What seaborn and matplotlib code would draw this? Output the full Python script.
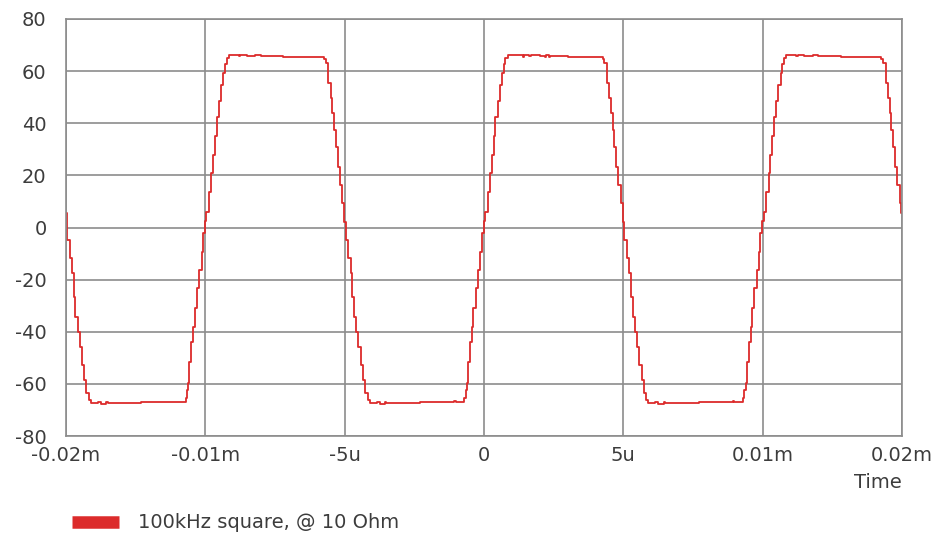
import numpy as np
import pandas as pd
import matplotlib
matplotlib.use("Agg")
import matplotlib.pyplot as plt
from matplotlib.lines import Line2D
import seaborn as sns

sns.set_style("white")
plt.rcParams['font.family'] = ['DejaVu Sans']
plt.rcParams['axes.unicode_minus'] = False

# time in microseconds (one row per edge / plateau)
t_us = [
    # falling edge at -15u (tail only)
    -15.00, -14.98, -14.96, -14.87, -14.78, -14.72, -14.66, -14.58, -14.51, -14.42, -14.34, -14.27, -14.18, -14.10,
    -13.85, -13.75, -13.55, -13.50, -13.20, -12.30,
    # rising edge at -10u
    -10.70, -10.66, -10.61, -10.58, -10.50, -10.43, -10.38, -10.30, -10.22, -10.13, -10.08, -10.01,
    -9.97, -9.87, -9.79, -9.72, -9.65, -9.59, -9.51, -9.44, -9.36, -9.29, -9.23, -9.15,
    -8.80, -8.75, -8.50, -8.20, -8.00, -7.20,
    # falling edge at -5u
    -5.74, -5.68, -5.59, -5.50, -5.44, -5.38, -5.32, -5.25, -5.18, -5.08, -5.02,
    -4.96, -4.87, -4.78, -4.72, -4.66, -4.58, -4.51, -4.42, -4.34, -4.27, -4.18, -4.10,
    -3.85, -3.75, -3.55, -3.50, -3.20, -2.30, -1.06, -1.02,
    # rising edge at 0
    -0.70, -0.66, -0.61, -0.58, -0.50, -0.43, -0.38, -0.30, -0.22, -0.13, -0.08, -0.01,
    0.03, 0.13, 0.21, 0.28, 0.35, 0.41, 0.49, 0.56, 0.64, 0.71, 0.77, 0.85,
    1.40, 1.45, 1.60, 1.70, 2.00, 2.20, 2.23, 2.33, 2.36, 3.00,
    # falling edge at 5u
    4.26, 4.32, 4.41, 4.50, 4.56, 4.62, 4.68, 4.75, 4.82, 4.92, 4.98,
    5.04, 5.13, 5.22, 5.28, 5.34, 5.42, 5.49, 5.58, 5.66, 5.73, 5.82, 5.90,
    6.15, 6.25, 6.45, 6.50, 6.80, 7.70, 8.94, 8.98,
    # rising edge at 10u
    9.30, 9.34, 9.39, 9.42, 9.50, 9.57, 9.62, 9.70, 9.78, 9.87, 9.92, 9.99,
    10.03, 10.13, 10.21, 10.28, 10.35, 10.41, 10.49, 10.56, 10.64, 10.71, 10.77, 10.85,
    11.20, 11.25, 11.50, 11.80, 12.00, 12.80,
    # falling edge at 15u (head only)
    14.26, 14.32, 14.41, 14.50, 14.56, 14.62, 14.68, 14.75, 14.82, 14.92, 14.98, 15.00,
]

volts = [
    5.5, 2.2, -4.8, -11.8, -17.6, -26.6, -34.2, -40.0, -45.7, -52.8, -58.5, -63.6, -66.2, -67.5,
    -67.0, -67.6, -67.1, -67.5, -67.2, -67.0,
    -65.5, -62.5, -59.6, -51.5, -43.8, -38.1, -31.0, -23.3, -16.3, -9.3, -2.0, 2.5,
    6.1, 13.7, 20.8, 27.8, 35.1, 42.3, 48.5, 54.7, 59.2, 62.7, 64.9, 66.2,
    65.7, 66.2, 65.8, 66.1, 65.7, 65.5,
    64.5, 63.0, 55.3, 49.6, 43.8, 37.4, 31.0, 23.3, 16.3, 9.3, 2.2,
    -4.8, -11.8, -17.6, -26.6, -34.2, -40.0, -45.7, -52.8, -58.5, -63.6, -66.2, -67.5,
    -67.0, -67.6, -67.1, -67.5, -67.2, -67.0, -66.4, -67.0,
    -65.5, -62.5, -59.6, -51.5, -43.8, -38.1, -31.0, -23.3, -16.3, -9.3, -2.0, 2.5,
    6.1, 13.7, 20.8, 27.8, 35.1, 42.3, 48.5, 54.7, 59.2, 62.7, 64.9, 66.2,
    65.6, 66.2, 65.7, 66.1, 65.8, 65.3, 66.0, 65.4, 65.8, 65.5,
    64.5, 63.0, 55.3, 49.6, 43.8, 37.4, 31.0, 23.3, 16.3, 9.3, 2.2,
    -4.8, -11.8, -17.6, -26.6, -34.2, -40.0, -45.7, -52.8, -58.5, -63.6, -66.2, -67.5,
    -67.0, -67.6, -67.1, -67.5, -67.2, -67.0, -66.4, -67.0,
    -65.5, -62.5, -59.6, -51.5, -43.8, -38.1, -31.0, -23.3, -16.3, -9.3, -2.0, 2.5,
    6.1, 13.7, 20.8, 27.8, 35.1, 42.3, 48.5, 54.7, 59.2, 62.7, 64.9, 66.2,
    65.7, 66.2, 65.8, 66.1, 65.7, 65.5,
    64.5, 63.0, 55.3, 49.6, 43.8, 37.4, 31.0, 23.3, 16.3, 9.3, 5.5, 5.5,
]

x_ticks = [-15, -10, -5, 0, 5, 10, 15]
x_labels = ['-0.02m', '-0.01m', '-5u', '0', '5u', '0.01m', '0.02m']
y_ticks = [-80, -60, -40, -20, 0, 20, 40, 60, 80]
series_name = '100kHz square, @ 10 Ohm'

df = pd.DataFrame({'t': t_us, 'v': volts})

red = '#dc2b2b'
grid_c = '#8c8c8c'
text_c = '#3c3c3c'

fig = plt.figure(figsize=(9.39, 5.37), dpi=100)
ax = fig.add_axes([66 / 939, 1 - 436 / 537, 836 / 939, 417 / 537])

sns.lineplot(data=df, x='t', y='v', ax=ax, color=red, linewidth=1.3,
             drawstyle='steps-post', estimator=None, sort=False, legend=False)

ax.set_xlim(-15, 15)
ax.set_ylim(-80, 80)
ax.set_xticks(x_ticks)
ax.set_xticklabels(x_labels)
ax.set_yticks(y_ticks)
ax.grid(True, color=grid_c, linewidth=1.2)
for sp in ax.spines.values():
    sp.set_color(grid_c)
    sp.set_linewidth(1.2)
ax.tick_params(axis='both', length=0, labelsize=14, labelcolor=text_c)
ax.tick_params(axis='y', pad=14)
ax.tick_params(axis='x', pad=7)
ax.set_ylabel('')
ax.set_xlabel('Time', loc='right', fontsize=14, color=text_c, labelpad=6)

handle = Line2D([0], [0], color=red, linewidth=9, solid_capstyle='butt')
fig.legend([handle], [series_name], loc='center left',
           bbox_to_anchor=(72 / 939, 1 - 523 / 537),
           frameon=False, fontsize=14, handlelength=2.4, handletextpad=1.0,
           borderpad=0, borderaxespad=0, labelcolor=text_c)

fig.savefig('out.png', dpi=100)
